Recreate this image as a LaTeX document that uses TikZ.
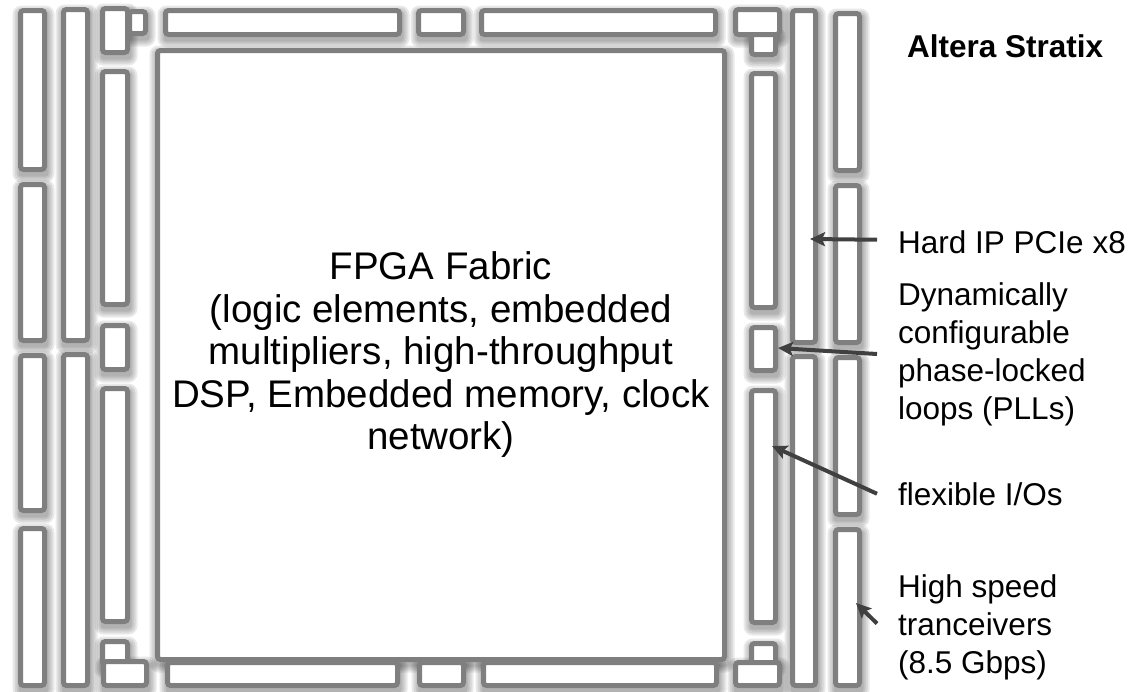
\documentclass[tikz,border=0pt]{standalone}
\usepackage{fontspec}
\setmainfont{Liberation Sans}
\usepackage{tikz}
\usetikzlibrary{arrows.meta,positioning}
\definecolor{blockgray}{HTML}{7F7F7F}
\definecolor{arrowgray}{HTML}{404040}

\def\blocklist{%
  20.5/10.5/44.5/169.5, 20.5/184.5/44.5/340.5, 20.5/355.5/44.5/510.5, 20.5/528.5/44.5/685.5,
  63.5/9.5/87.5/340.5, 63.5/354.5/87.5/685.5,
  129.5/11.5/145.5/33.5, 102.5/8.5/127.5/52.5,
  102.5/71.5/127.5/304.5, 102.5/325.5/127.5/369.5, 102.5/388.5/127.5/621.5,
  102.5/641.5/127.5/665, 103.5/661.5/146.5/685.5,
  165.5/10.5/399.5/34.5, 418.5/10.5/463.5/34.5, 481.5/10.5/715.5/34.5,
  167.5/662.5/397.5/685.5, 419.5/662.5/463.5/685.5, 483.5/662.5/716.5/685.5,
  751.5/32/775.5/54.5, 735.5/9.5/779.5/34.5,
  751.5/73.5/775.5/307.5, 751.5/327.5/775.5/370.5, 751.5/390.5/775.5/622.5,
  751.5/643.5/775.5/665, 735.5/662.5/779.5/685.5,
  792.5/10.5/815.5/342.5, 792.5/356.5/815.5/685.5,
  835.5/13.5/859.5/170.5, 835.5/185.5/859.5/342.5, 835.5/357.5/859.5/514.5, 835.5/529.5/859.5/685.5}

\begin{document}
\begin{tikzpicture}[x=1pt, y=-1pt,
  blk/.style={draw=blockgray, fill=white, line width=5pt, rounded corners=3pt},
  glow/.style={fill=black, opacity=0.085},
  note/.style={font=\fontsize{31.5}{38}\selectfont, inner sep=0pt, align=left, anchor=west},
  ptr/.style={draw=arrowgray, line width=4pt, -{Stealth[length=15pt, width=14pt, inset=3pt]}}]
  \useasboundingbox (0,0) rectangle (1140,691);

  \foreach \r in {3,5,7,9}
    \fill[glow, rounded corners=\r pt] (157.5-\r+1,50.5-\r+4) rectangle (724.5+\r+1,659.5+\r+4);
  \foreach \xa/\ya/\xb/\yb in \blocklist {
    \foreach \r in {3,5,7,9}
      \fill[glow, rounded corners=\r pt] (\xa-\r+1,\ya-\r+4) rectangle (\xb+\r+1,\yb+\r+4);
  }

  \node[blk, minimum width=567pt, minimum height=609pt, inner sep=0pt, align=center,
    font=\fontsize{38.5}{42.5}\selectfont] (fabric) at (441,355)
    {FPGA Fabric\\(logic elements, embedded\\multipliers, high-throughput\\DSP, Embedded memory, clock\\network)};

  \foreach \xa/\ya/\xb/\yb in \blocklist
    \draw[blk] (\xa,\ya) rectangle (\xb,\yb);

  \node[font=\bfseries\fontsize{31.5}{38}\selectfont, inner sep=0pt, anchor=base west] (title) at (907,57) {Altera Stratix};
  \node[note, anchor=base west] (pcie) at (898,253) {Hard IP PCIe x8};
  \node[note] (pll) at (898,354) {Dynamically\\configurable\\phase-locked\\loops (PLLs)};
  \node[note, anchor=base west] (io) at (898,505) {flexible I/Os};
  \node[note] (hss) at (898,627.5) {High speed\\tranceivers\\(8.5 Gbps)};

  \coordinate (pcieTip) at (810,239);
  \coordinate (pllTip) at (778,348);
  \coordinate (ioTip) at (772,446);
  \coordinate (hssTip) at (856,603);

  \draw[ptr] ([xshift=-21pt,yshift=2pt]pcie.west) -- (pcieTip);
  \draw[ptr] ([xshift=-21pt]pll.west) -- (pllTip);
  \draw[ptr] ([xshift=-21pt]io.west) -- (ioTip);
  \draw[ptr] ([xshift=-21pt,yshift=4pt]hss.west) -- (hssTip);
\end{tikzpicture}
\end{document}
